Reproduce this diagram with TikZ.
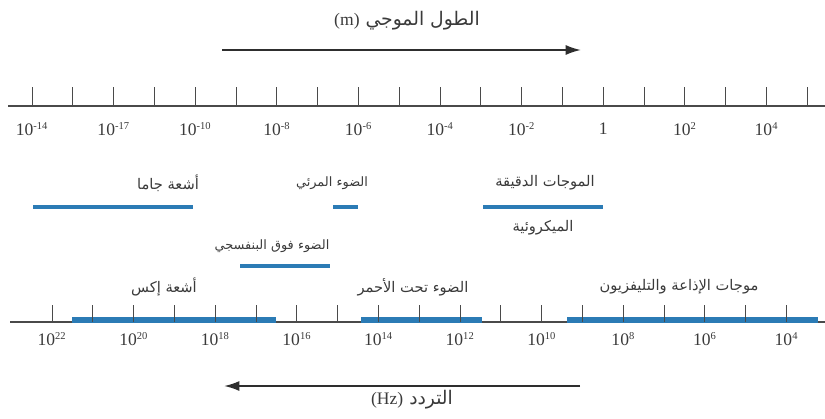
\documentclass[tikz,border=0pt]{standalone}
\usepackage{fontspec}
\usepackage{xcolor}
\usepackage{tikz}
\usetikzlibrary{arrows.meta,positioning}
\setmainfont{Liberation Serif}
\newfontfamily\arabicfont[Script=Arabic]{DejaVu Sans}
\TeXXeTstate=1
\definecolor{axisgray}{HTML}{4A4A4A}
\definecolor{arrowgray}{HTML}{2E2E2E}
\definecolor{bandblue}{HTML}{2B7BB5}
\definecolor{textgray}{HTML}{3A3A3A}
\tikzset{
  axis/.style={draw=axisgray,line width=1.1pt},
  tickmark/.style={draw=axisgray,line width=.7pt},
  band/.style={draw=bandblue,line width=3.6pt},
  axisband/.style={draw=bandblue,line width=4.4pt},
  arrow/.style={-{Latex[length=4.6mm,width=3mm]},draw=arrowgray,line width=1.6pt},
  scalelabel/.style={font=\fontsize{15}{18}\selectfont,text=textgray,inner sep=0pt},
  bandlabel/.style={font=\arabicfont\fontsize{12.5}{14}\selectfont,text=textgray,inner sep=1pt},
  smalllabel/.style={font=\arabicfont\fontsize{11}{13}\selectfont,text=textgray,inner sep=1pt},
  titlelabel/.style={font=\fontsize{14}{16}\selectfont,text=textgray,inner sep=1pt}
}
\begin{document}
\begin{tikzpicture}[x=0.03cm,y=-0.03cm]
\useasboundingbox (0,0) rectangle (825,418);

% wavelength scale
\draw[axis] (8,106) -- (825,106);
\foreach \i in {0,...,19}
  \draw[tickmark] ({32+40.8*\i},106) -- ++(0,-19);
\foreach \e [count=\k from 0] in {-14,-17,-10,-8,-6,-4,-2,0,2,4}{
  \ifnum\e=0
    \node[scalelabel] (wl\k) at ({32+81.6*\k},129) {1};
  \else
    \node[scalelabel] (wl\k) at ({32+81.6*\k},129) {10\textsuperscript{\fontsize{9}{9}\selectfont\e}};
  \fi
}
\node[titlelabel] (wavetitle) at (407,21)
  {\arabicfont\fontsize{16}{18}\selectfont\beginR الطول الموجي \beginL{\rmfamily\fontsize{15}{16}\selectfont(m)}\endL\endR};
\coordinate (wl-start) at (222,50);
\coordinate (wl-end) at (581,50);
\draw[arrow] (wl-start) -- (wl-end);

% middle bands
\draw[band] (33,207) -- (193,207);
\draw[band] (333,207) -- (358,207);
\draw[band] (483,207) -- (603,207);
\draw[band] (240,266) -- (330,266);
\node[bandlabel] (gamma) at (168,183) {\beginR أشعة جاما\endR};
\node[smalllabel] (visible) at (332,183) {\beginR الضوء المرئي\endR};
\node[bandlabel] (micro) at (545,183) {\beginR الموجات الدقيقة\endR};
\node[bandlabel] (micro2) at (543,228) {\beginR الميكروئية\endR};
\node[smalllabel] (uv) at (272,246) {\beginR الضوء فوق البنفسجي\endR};

% frequency scale
\draw[axis] (10,322) -- (825,322);
\draw[axisband] (72,320) -- (276,320);
\draw[axisband] (361,320) -- (482,320);
\draw[axisband] (567,320) -- (818,320);
\foreach \i in {0,...,18}
  \draw[tickmark] ({52+40.8*\i},322) -- ++(0,-17);
\foreach \e [count=\k from 0] in {22,20,18,16,14,12,10,8,6,4}
  \node[scalelabel] (fq\k) at ({52+81.6*\k},339) {10\textsuperscript{\fontsize{9}{9}\selectfont\e}};
\node[bandlabel] (xray) at (164,287) {\beginR أشعة إكس\endR};
\node[bandlabel] (ir) at (413,287) {\beginR الضوء تحت الأحمر\endR};
\node[bandlabel] (radio) at (679,287) {\beginR موجات الإذاعة والتليفزيون\endR};
\coordinate (fq-start) at (580,386);
\coordinate (fq-end) at (224,386);
\draw[arrow] (fq-start) -- (fq-end);
\node[titlelabel] (freqtitle) at (412,400)
  {\arabicfont\fontsize{16}{18}\selectfont\beginR التردد \beginL{\rmfamily\fontsize{15}{16}\selectfont(Hz)}\endL\endR};
\end{tikzpicture}
\end{document}
